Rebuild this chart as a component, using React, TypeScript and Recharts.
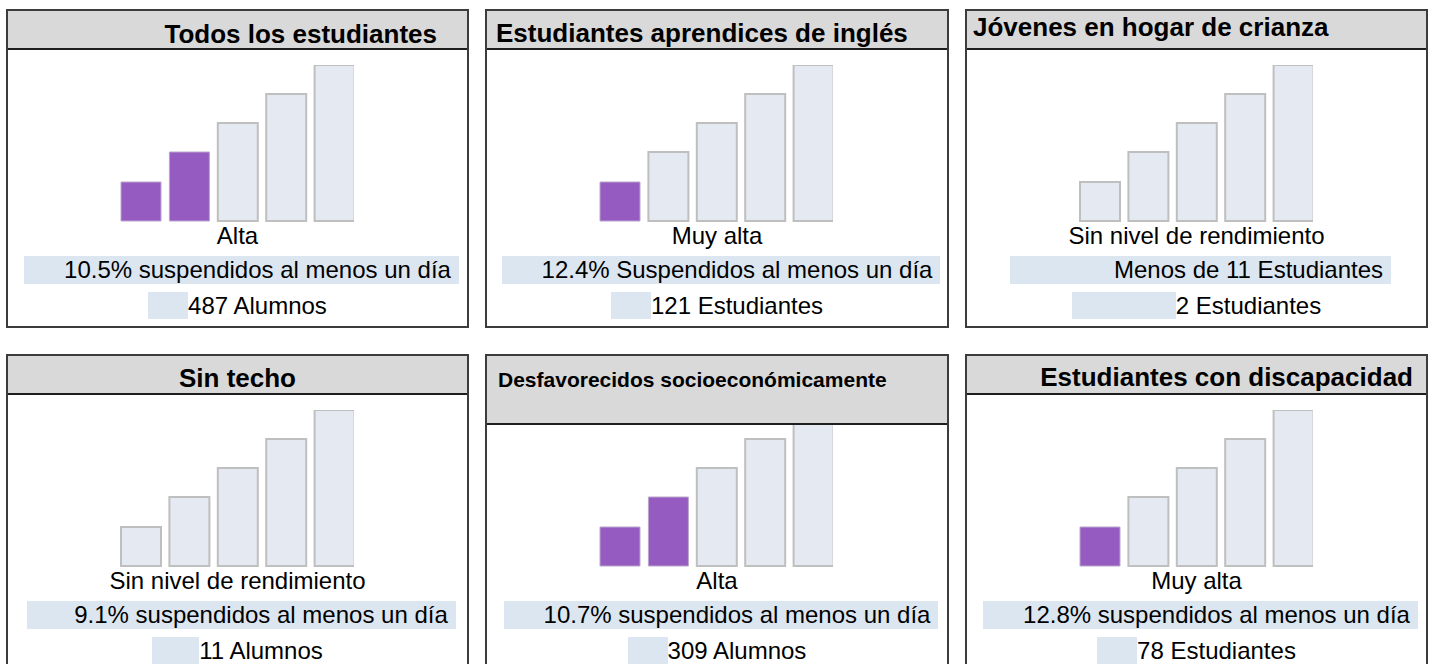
import React from 'react';
import { BarChart, Bar, Cell, XAxis, YAxis } from 'recharts';

// student groups, one panel each (read left-to-right, top-to-bottom)
const groups = [
  'Todos los estudiantes',
  'Estudiantes aprendices de inglés',
  'Jóvenes en hogar de crianza',
  'Sin techo',
  'Desfavorecidos socioeconómicamente',
  'Estudiantes con discapacidad',
];
const levels = ['Alta', 'Muy alta', 'Sin nivel de rendimiento', 'Sin nivel de rendimiento', 'Alta', 'Muy alta'];
const rates = [
  '10.5% suspendidos al menos un día',
  '12.4% Suspendidos al menos un día',
  'Menos de 11 Estudiantes',
  '9.1% suspendidos al menos un día',
  '10.7% suspendidos al menos un día',
  '12.8% suspendidos al menos un día',
];
const counts = ['487 Alumnos', '121 Estudiantes', '2 Estudiantes', '11 Alumnos', '309 Alumnos', '78 Estudiantes'];
// how many of the five gauge bars are coloured
const filledBars = [2, 1, 0, 0, 2, 1];
// gauge steps and their heights
const gaugeSteps = [1, 2, 3, 4, 5];
const gaugeHeights = [39, 69, 98, 127, 156];

const FONT = '"Liberation Sans", Arial, sans-serif';
const PURPLE = '#955bc1';
const LIGHT = '#e5e9f1';
const TEXT_BG = '#dce6f1';

const colLeft = [6, 485, 965];
const colWidth = [463, 464, 463];
const rowTop = [9, 354];

const headerCfg = [
  { h: 41, align: 'right', pad: 32, top: 11.7, size: 26 },
  { h: 41, align: 'left', pad: 11, top: 10.7, size: 26 },
  { h: 41, align: 'left', pad: 8, top: 5, size: 26 },
  { h: 41, align: 'center', pad: 0, top: 10.7, size: 26 },
  { h: 71, align: 'left', pad: 13, top: 14.9, size: 21 },
  { h: 41, align: 'right', pad: 15, top: 10, size: 26 },
];
// width of the little shaded lead-in block on the two bottom lines
const leadWidth = [40, 40, 104, 47, 40, 40];

const gaugeData = gaugeSteps.map((s, i) => ({ step: s, h: gaugeHeights[i] }));

const Gauge: React.FC<{ filled: number }> = ({ filled }) => (
  <div style={{ position: 'absolute', left: 111, top: 56, width: 237, height: 158, overflow: 'hidden' }}>
    <BarChart width={242} height={158} data={gaugeData} margin={{ top: 0, right: 0, left: 0, bottom: 2 }}>
      <XAxis dataKey="step" hide />
      <YAxis hide domain={[0, 156]} />
      <Bar dataKey="h" barSize={40} isAnimationActive={false}>
        {gaugeData.map((d, i) => (
          <Cell
            key={d.step}
            fill={i < filled ? PURPLE : LIGHT}
            stroke={i < filled ? '#b9a6cc' : '#bfbfbf'}
            strokeWidth={i < filled ? 1 : 2}
          />
        ))}
      </Bar>
    </BarChart>
  </div>
);

const Panel: React.FC<{ i: number }> = ({ i }) => {
  const col = i % 3;
  const row = Math.floor(i / 3);
  const w = colWidth[col];
  const hc = headerCfg[i];
  const lead = leadWidth[i];
  const headText: React.CSSProperties = {
    position: 'absolute',
    top: hc.top,
    fontSize: hc.size,
    lineHeight: 1,
    fontWeight: 'bold',
    whiteSpace: 'nowrap',
  };
  if (hc.align === 'left') headText.left = hc.pad;
  else if (hc.align === 'right') headText.right = hc.pad;
  else {
    headText.left = 0;
    headText.width = w;
    headText.textAlign = 'center';
  }
  return (
    <div
      style={{
        position: 'absolute',
        left: colLeft[col],
        top: rowTop[row],
        width: w,
        height: 319,
        background: '#fff',
        fontFamily: FONT,
        color: '#000',
      }}
    >
      <Gauge filled={filledBars[i]} />
      <div
        style={{
          position: 'absolute',
          left: 0,
          top: 0,
          width: w,
          height: hc.h,
          background: '#d9d9d9',
          borderBottom: '2px solid #1e1e1e',
          boxSizing: 'border-box',
        }}
      >
        <div style={headText}>{groups[i]}</div>
      </div>
      <div
        style={{
          position: 'absolute',
          left: 0,
          top: 214.7,
          width: w,
          textAlign: 'center',
          fontSize: 24,
          lineHeight: 1,
          whiteSpace: 'nowrap',
        }}
      >
        {levels[i]}
      </div>
      <div style={{ position: 'absolute', left: 0, top: 247, width: w, display: 'flex', justifyContent: 'center' }}>
        <div
          style={{
            display: 'flex',
            background: TEXT_BG,
            height: 28,
            lineHeight: '28px',
            fontSize: 24,
            paddingRight: 8,
            marginLeft: 8,
            whiteSpace: 'nowrap',
          }}
        >
          <div style={{ width: lead }} />
          <div>{rates[i]}</div>
        </div>
      </div>
      <div style={{ position: 'absolute', left: 0, top: 283, width: w, display: 'flex', justifyContent: 'center' }}>
        <div style={{ display: 'flex', height: 27, lineHeight: '27px', fontSize: 24, whiteSpace: 'nowrap' }}>
          <div style={{ width: lead, background: TEXT_BG }} />
          <div>{counts[i]}</div>
        </div>
      </div>
      <div
        style={{
          position: 'absolute',
          inset: 0,
          border: '2px solid #3c3c3c',
          boxSizing: 'border-box',
          pointerEvents: 'none',
        }}
      />
    </div>
  );
};

export default function App() {
  return (
    <div
      style={{
        position: 'absolute',
        left: 0,
        top: 0,
        width: 1430,
        height: 664,
        overflow: 'hidden',
        background: '#fff',
      }}
    >
      {groups.map((g, i) => (
        <Panel key={g} i={i} />
      ))}
    </div>
  );
}
